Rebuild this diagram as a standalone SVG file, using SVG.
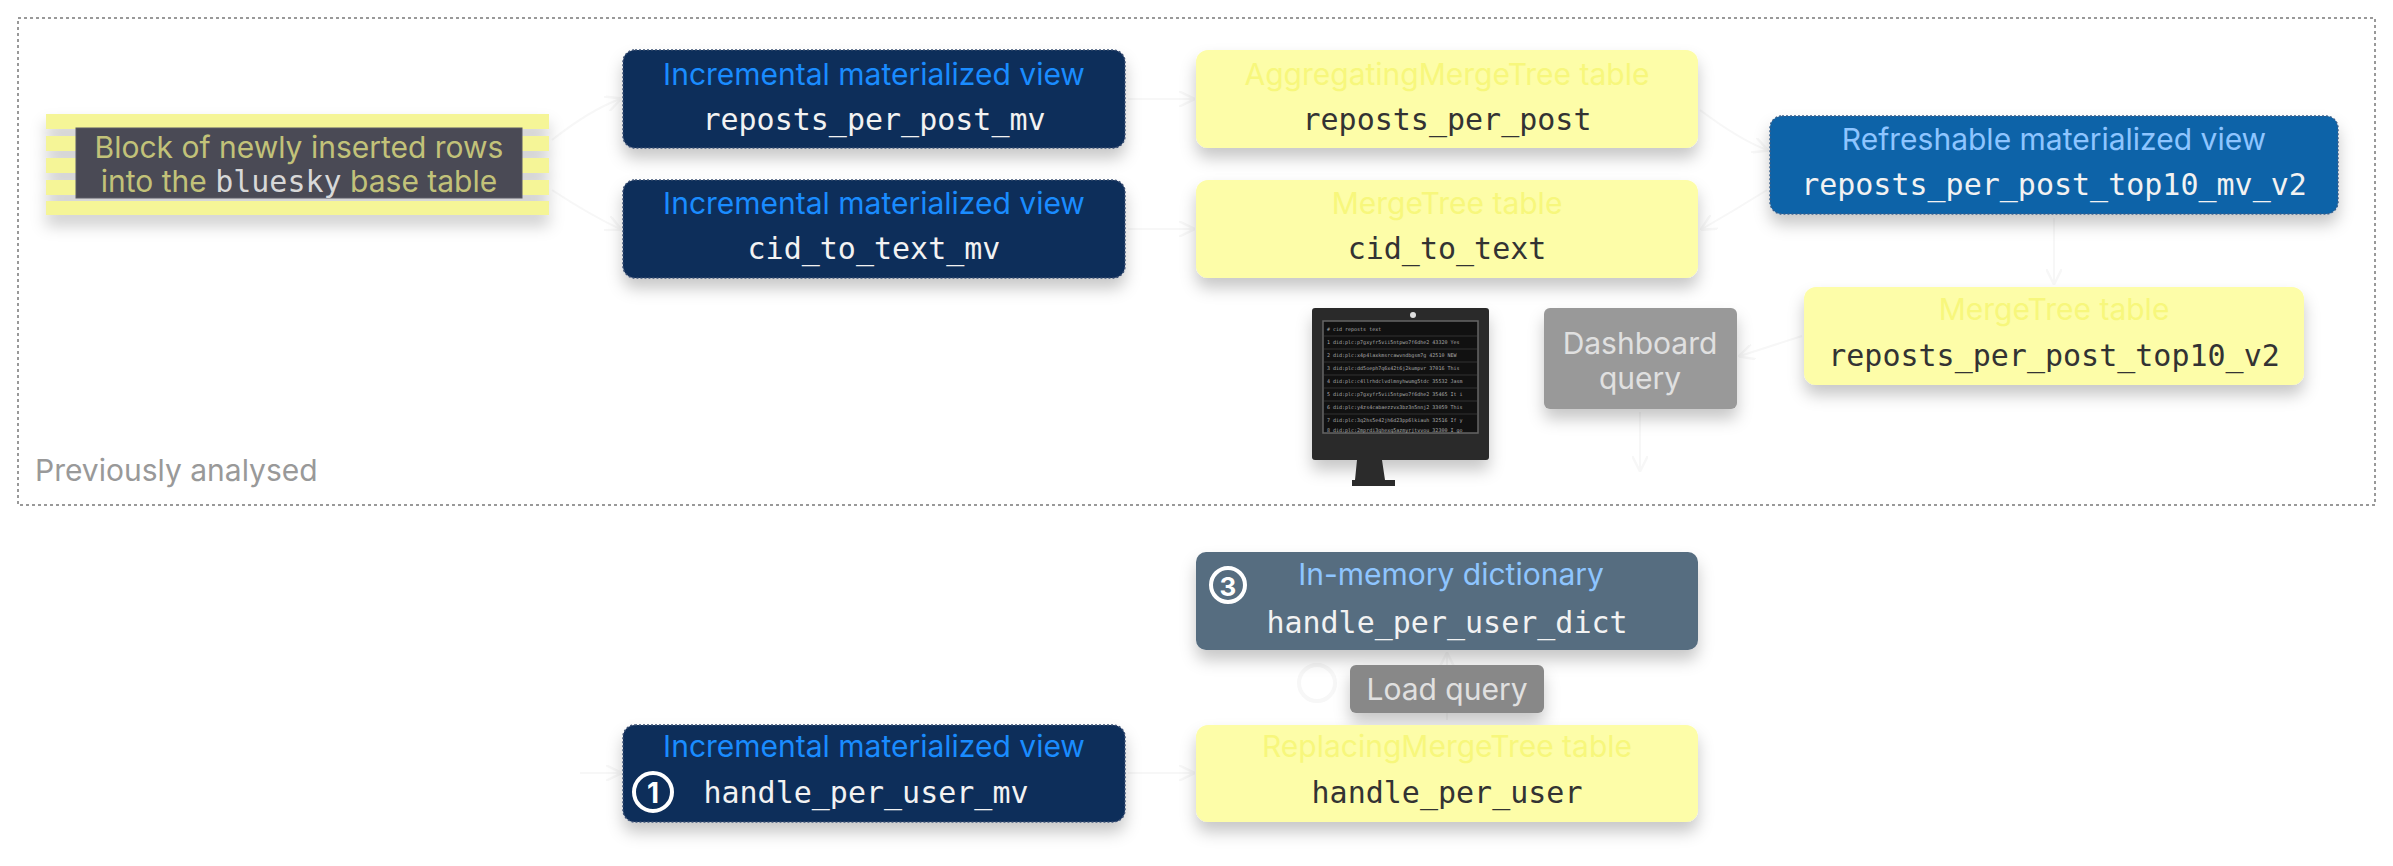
<svg xmlns="http://www.w3.org/2000/svg" width="2393" height="866" viewBox="0 0 2393 866">
<defs>
<filter id="sh" x="-10%" y="-20%" width="120%" height="160%"><feDropShadow dx="0" dy="10" stdDeviation="8" flood-color="#000" flood-opacity="0.22"/></filter>
<marker id="ar" viewBox="0 0 10 10" refX="9" refY="5" markerWidth="8" markerHeight="8" orient="auto"><path d="M0,0 L10,5 L0,10" fill="none" stroke="#f7f7f7" stroke-width="1.5"/></marker>
<style>
.t{font-family:Inter,"Liberation Sans",sans-serif;font-size:30px;text-anchor:middle}
.m{font-family:"DejaVu Sans Mono","Liberation Mono",monospace;font-size:30px;text-anchor:middle}
.mv{fill:#0f2d5a;stroke:#3a4f72;stroke-width:1.5;stroke-dasharray:2 2}
.mvt{fill:#1a8cff}
.yl{fill:#fdfda8}
.ylt{fill:#f7f77c}
.dk{fill:#333333}
.wh{fill:#f2f2f2}
.cn{fill:none;stroke:#f7f7f7;stroke-width:2;marker-end:url(#ar)}
</style>
</defs>
<rect width="2393" height="866" fill="#ffffff"/>
<g id="previously">
<rect x="18" y="18" width="2357" height="487" fill="none" stroke="#999" stroke-width="2" stroke-dasharray="3 3"/>
<text x="35" y="481" font-family="Inter,'Liberation Sans',sans-serif" font-size="30" fill="#999">Previously analysed</text>
</g>
<g id="connectors">
<path class="cn" d="M552,140 Q590,110 620,99"/>
<path class="cn" d="M552,190 Q590,215 620,229"/>
<path class="cn" d="M1128,99 L1193,99"/>
<path class="cn" d="M1128,229 L1193,229"/>
<path class="cn" d="M1700,110 Q1740,140 1767,150"/>
<path class="cn" d="M1767,190 Q1735,210 1702,229"/>
<path class="cn" d="M2054,218 L2054,283"/>
<path class="cn" d="M1802,336 L1740,356"/>
<path class="cn" d="M1640,412 L1640,470"/>
<path class="cn" d="M1447,720 L1447,654"/>
<path class="cn" d="M580,773 L620,773"/>
<path class="cn" d="M1128,773 L1193,773"/>
<circle cx="1317" cy="683" r="18" fill="none" stroke="#f7f7f7" stroke-width="4"/>
</g>
<g id="block">
<g filter="url(#sh)" fill="#f5f597">
<rect x="46" y="114" width="503" height="15"/>
<rect x="46" y="136" width="503" height="15"/>
<rect x="46" y="158" width="503" height="15"/>
<rect x="46" y="180" width="503" height="15"/>
<rect x="46" y="201" width="503" height="14"/>
</g>
<rect x="76" y="128" width="446" height="70" fill="#4a4a55" stroke="#5a5a66"/>
<text x="299" y="158" class="t" fill="#c2c279">Block of newly inserted rows</text>
<text x="299" y="192" class="t" fill="#c2c279">into the <tspan font-family="'DejaVu Sans Mono',monospace" fill="#d8d8d8">bluesky</tspan> base table</text>
</g>
<g id="reposts_per_post_mv">
<rect x="623" y="50" width="502" height="98" rx="12" class="mv" filter="url(#sh)"/>
<text x="874" y="85" class="t mvt">Incremental materialized view</text>
<text x="874" y="130" class="m wh">reposts_per_post_mv</text>
</g>
<g id="cid_to_text_mv">
<rect x="623" y="180" width="502" height="98" rx="12" class="mv" filter="url(#sh)"/>
<text x="874" y="214" class="t mvt">Incremental materialized view</text>
<text x="874" y="259" class="m wh">cid_to_text_mv</text>
</g>
<g id="reposts_per_post">
<rect x="1196" y="50" width="502" height="98" rx="12" class="yl" filter="url(#sh)"/>
<text x="1447" y="85" class="t ylt">AggregatingMergeTree table</text>
<text x="1447" y="130" class="m dk">reposts_per_post</text>
</g>
<g id="cid_to_text">
<rect x="1196" y="180" width="502" height="98" rx="12" class="yl" filter="url(#sh)"/>
<text x="1447" y="214" class="t ylt">MergeTree table</text>
<text x="1447" y="259" class="m dk">cid_to_text</text>
</g>
<g id="refreshable">
<rect x="1770" y="116" width="568" height="98" rx="12" fill="#0963a8" stroke="#3a5f8a" stroke-width="1.5" stroke-dasharray="2 2" filter="url(#sh)"/>
<text x="2054" y="150" class="t" fill="#8ec5ff">Refreshable materialized view</text>
<text x="2054" y="195" class="m wh">reposts_per_post_top10_mv_v2</text>
</g>
<g id="top10">
<rect x="1804" y="287" width="500" height="98" rx="12" class="yl" filter="url(#sh)"/>
<text x="2054" y="320" class="t ylt">MergeTree table</text>
<text x="2054" y="366" class="m dk">reposts_per_post_top10_v2</text>
</g>
<g id="monitor">
<rect x="1312" y="308" width="177" height="152" rx="3" fill="#2b2b2b" filter="url(#sh)"/>
<circle cx="1413" cy="315" r="3" fill="#ddd"/>
<rect x="1323" y="321" width="155" height="112" fill="#111" stroke="#666" stroke-width="1.5"/>
<g stroke="#333" stroke-width="1">
<line x1="1324" y1="336" x2="1477" y2="336"/><line x1="1324" y1="349" x2="1477" y2="349"/><line x1="1324" y1="362" x2="1477" y2="362"/><line x1="1324" y1="375" x2="1477" y2="375"/><line x1="1324" y1="388" x2="1477" y2="388"/><line x1="1324" y1="401" x2="1477" y2="401"/><line x1="1324" y1="414" x2="1477" y2="414"/></g>
<g font-family="'DejaVu Sans Mono',monospace" font-size="5" fill="#aaa">
<text x="1327" y="331">#  cid                           reposts  text</text>
<text x="1327" y="344">1  did:plc:p7gxyfr5vii5ntpwo7f6dhe2   43320  Yes</text>
<text x="1327" y="357">2  did:plc:x4p4laxkmsrcawvndbgsm7g   42510  NEW</text>
<text x="1327" y="370">3  did:plc:dd5oeph7q6x42t6j2kumpvr   37016  This</text>
<text x="1327" y="383">4  did:plc:c4llrhdclvdlmnyhwumg5tdc   35532  Jasm</text>
<text x="1327" y="396">5  did:plc:p7gxyfr5vii5ntpwo7f6dhe2   35465  It i</text>
<text x="1327" y="409">6  did:plc:y4zs4cabaezzvx3bz3n5nnj2   33059  This</text>
<text x="1327" y="422">7  did:plc:3q2hs5e42jh6d23pp6lkiauh   32516  If y</text>
<text x="1327" y="432">8  did:plc:2mprdi3qhexq5azmyrjtvvou   32300  I go</text>
</g>
<path d="M1357,460 L1382,460 L1385,480 L1395,480 L1395,486 L1352,486 L1352,480 L1355,480 Z" fill="#2b2b2b"/>
</g>
<g id="dashboard_query">
<rect x="1544" y="308" width="193" height="101" rx="6" fill="#999" filter="url(#sh)"/>
<text x="1640" y="354" class="t" fill="#e0e0e0">Dashboard</text>
<text x="1640" y="389" class="t" fill="#e0e0e0">query</text>
</g>
<g id="handle_per_user_dict">
<rect x="1196" y="552" width="502" height="98" rx="10" fill="#566d80" filter="url(#sh)"/>
<circle cx="1228" cy="585" r="17" fill="none" stroke="#fff" stroke-width="4"/>
<text x="1228" y="596" font-family="Inter,'Liberation Sans',sans-serif" font-size="26" font-weight="bold" fill="#fff" text-anchor="middle">3</text>
<text x="1451" y="585" class="t" fill="#8ec5ff">In-memory dictionary</text>
<text x="1447" y="633" class="m wh">handle_per_user_dict</text>
</g>
<g id="load_query">
<rect x="1350" y="665" width="194" height="48" rx="6" fill="#888" filter="url(#sh)"/>
<text x="1447" y="700" class="t" fill="#e0e0e0">Load query</text>
</g>
<g id="handle_per_user_mv">
<rect x="623" y="725" width="502" height="97" rx="12" class="mv" filter="url(#sh)"/>
<text x="874" y="757" class="t mvt">Incremental materialized view</text>
<circle cx="653" cy="792" r="19" fill="none" stroke="#fff" stroke-width="4"/>
<text x="653" y="803" font-family="Inter,'Liberation Sans',sans-serif" font-size="28" font-weight="bold" fill="#fff" text-anchor="middle">1</text>
<text x="866" y="803" class="m wh">handle_per_user_mv</text>
</g>
<g id="handle_per_user">
<rect x="1196" y="725" width="502" height="97" rx="12" class="yl" filter="url(#sh)"/>
<text x="1447" y="757" class="t ylt">ReplacingMergeTree table</text>
<text x="1447" y="803" class="m dk">handle_per_user</text>
</g>
</svg>
